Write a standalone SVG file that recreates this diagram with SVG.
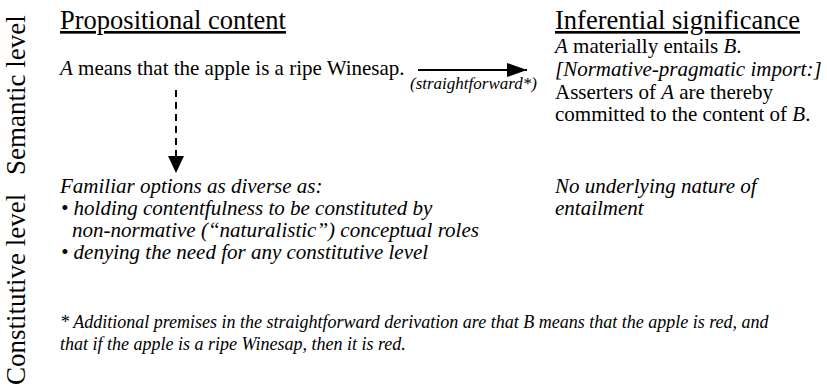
<svg xmlns="http://www.w3.org/2000/svg" width="827" height="389" viewBox="0 0 827 389">
<defs>
<marker id="ah" viewBox="0 0 20 14" refX="20" refY="7" markerWidth="20" markerHeight="14" markerUnits="userSpaceOnUse" orient="auto">
<path d="M0,0 L20,7 L0,14 Z" fill="#000"/>
</marker>
<marker id="ah2" viewBox="0 0 16 17" refX="8" refY="17" markerWidth="16" markerHeight="17" markerUnits="userSpaceOnUse" orient="0">
<path d="M0,0 L16,0 L8,17 Z" fill="#000"/>
</marker>
</defs>
<rect width="827" height="389" fill="#fff"/>
<g id="side-labels">
<text font-family="'Times New Roman', 'Liberation Serif', Tinos, serif" font-size="27" transform="translate(25,175) rotate(-90)">Semantic level</text>
<text font-family="'Times New Roman', 'Liberation Serif', Tinos, serif" font-size="27" transform="translate(25,385) rotate(-90)">Constitutive level</text>
</g>
<g id="propositional-content">
<text font-family="'Times New Roman', 'Liberation Serif', Tinos, serif" font-size="26.5" text-decoration="underline" x="60" y="29">Propositional content</text>
<text font-family="'Times New Roman', 'Liberation Serif', Tinos, serif" font-size="21" x="60" y="75"><tspan font-style="italic">A</tspan> means that the apple is a ripe Winesap.</text>
</g>
<g id="inferential-significance">
<text font-family="'Times New Roman', 'Liberation Serif', Tinos, serif" font-size="26.5" text-decoration="underline" x="555" y="29">Inferential significance</text>
<text font-family="'Times New Roman', 'Liberation Serif', Tinos, serif" font-size="21" x="555" y="53"><tspan font-style="italic">A</tspan> materially entails <tspan font-style="italic">B</tspan>.</text>
<text font-family="'Times New Roman', 'Liberation Serif', Tinos, serif" font-size="21" font-style="italic" x="555" y="76">[Normative-pragmatic import:]</text>
<text font-family="'Times New Roman', 'Liberation Serif', Tinos, serif" font-size="21" x="555" y="99">Asserters of <tspan font-style="italic">A</tspan> are thereby</text>
<text font-family="'Times New Roman', 'Liberation Serif', Tinos, serif" font-size="21" x="555" y="121">committed to the content of <tspan font-style="italic">B</tspan>.</text>
</g>
<g id="constitutive-options">
<text font-family="'Times New Roman', 'Liberation Serif', Tinos, serif" font-size="21" font-style="italic" x="60" y="193">Familiar options as diverse as:</text>
<text font-family="'Times New Roman', 'Liberation Serif', Tinos, serif" font-size="21" font-style="italic" x="61" y="215">• holding contentfulness to be constituted by</text>
<text font-family="'Times New Roman', 'Liberation Serif', Tinos, serif" font-size="21" font-style="italic" x="72" y="237">non-normative (“naturalistic”) conceptual roles</text>
<text font-family="'Times New Roman', 'Liberation Serif', Tinos, serif" font-size="21" font-style="italic" x="61" y="259">• denying the need for any constitutive level</text>
</g>
<g id="no-underlying-nature">
<text font-family="'Times New Roman', 'Liberation Serif', Tinos, serif" font-size="21" font-style="italic" x="555" y="193">No underlying nature of</text>
<text font-family="'Times New Roman', 'Liberation Serif', Tinos, serif" font-size="21" font-style="italic" x="555" y="215">entailment</text>
</g>
<g id="footnote">
<text font-family="'Times New Roman', 'Liberation Serif', Tinos, serif" font-size="18" font-style="italic" x="60" y="328">* Additional premises in the straightforward derivation are that B means that the apple is red, and</text>
<text font-family="'Times New Roman', 'Liberation Serif', Tinos, serif" font-size="18" font-style="italic" x="60" y="350">that if the apple is a ripe Winesap, then it is red.</text>
</g>
<g id="connectors">
<line x1="418" y1="70" x2="527" y2="70" stroke="#000" stroke-width="2" marker-end="url(#ah)"/>
<text font-family="'Times New Roman', 'Liberation Serif', Tinos, serif" font-size="17" font-style="italic" x="410" y="89">(straightforward*)</text>
<line x1="176" y1="90" x2="176" y2="173" stroke="#000" stroke-width="2" stroke-dasharray="7,5" marker-end="url(#ah2)"/>
</g>
</svg>
